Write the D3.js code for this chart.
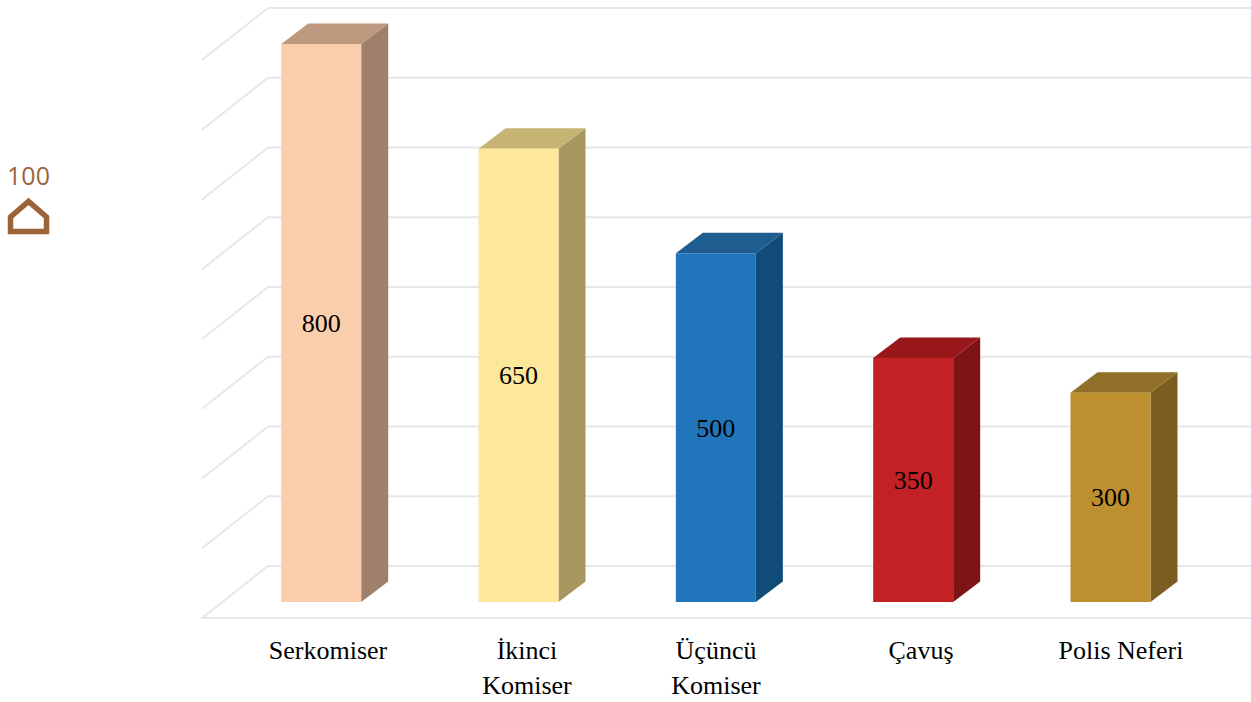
<!DOCTYPE html>
<html><head><meta charset="utf-8">
<script src="https://cdn.jsdelivr.net/npm/d3@7"></script>
<style>html,body{margin:0;padding:0;background:#fff;overflow:hidden}svg{display:block}</style>
</head><body><svg id="c" width="1251" height="702"></svg>
<script>
const categories=[["Serkomiser"],["İkinci","Komiser"],["Üçüncü","Komiser"],["Çavuş"],["Polis Neferi"]];
const values=[800,650,500,350,300];
const ticks=[0,100,200,300,400,500,600,700,800];
const frontColors=["#FACDAD","#FDE79A","#2175BB","#C32126","#BE8F2E"];
const sideColors=["#9F816B","#A7985F","#104C78","#7C1315","#7B5D22"];
const topColors=["#BD9980","#C6B474","#1F5C90","#98171B","#917029"];
const keyLabel="100";

const svg=d3.select("#c");
const y=d3.scaleLinear().domain([0,800]).range([602,44]);
const x=d3.scalePoint().domain(d3.range(values.length)).range([321.2,1110.5]);
const barW=80, dx=27, dy=-20.5;
const gridDx=66, gridDy=52;
const gridBack=v=>y(v)-36;

const grid=svg.append("g").attr("fill","none").attr("stroke","#E4E7EE").attr("stroke-width",2);
ticks.forEach(v=>{
  const b=gridBack(v);
  grid.append("path").attr("d",`M${268-gridDx},${b+gridDy}L268,${b}L1251,${b}`);
});
grid.append("path").attr("d",`M201,${gridBack(0)+gridDy}L1251,${gridBack(0)+gridDy}`);

const bars=svg.append("g").selectAll("g").data(values).join("g");
bars.each(function(v,i){
  const g=d3.select(this), l=x(i)-barW/2, r=l+barW, t=y(v), b=y(0);
  g.append("path").attr("fill",sideColors[i]).attr("d",`M${r},${t}L${r+dx},${t+dy}L${r+dx},${b+dy}L${r},${b}Z`);
  g.append("path").attr("fill",topColors[i]).attr("d",`M${l},${t}L${l+dx},${t+dy}L${r+dx},${t+dy}L${r},${t}Z`);
  g.append("rect").attr("fill",frontColors[i]).attr("x",l).attr("y",t).attr("width",barW).attr("height",b-t);
  g.append("text").attr("x",x(i)).attr("y",(t+b)/2+9).attr("text-anchor","middle")
    .attr("font-family","'Liberation Serif',serif").attr("font-size",26).attr("fill","#000").text(v);
});

const labs=svg.append("g").attr("font-family","'Liberation Serif',serif").attr("font-size",26).attr("fill","#000").attr("text-anchor","middle");
const labelCx=[328,527,716,921,1121];
categories.forEach((ls,i)=>{
  ls.forEach((s,j)=>labs.append("text").attr("x",labelCx[i]).attr("y",659+j*35).text(s));
});

svg.append("text").attr("x",28.5).attr("y",185).attr("text-anchor","middle")
  .attr("font-family","'Open Sans',sans-serif").attr("font-size",25).attr("fill","#9C6238").text(keyLabel);
svg.append("path").attr("fill","none").attr("stroke","#9C6238").attr("stroke-width",5.5)
  .attr("stroke-linejoin","miter").attr("d","M10.5,231.5L10.5,217L28.5,201.5L46.5,217L46.5,231.5Z");
</script></body></html>
